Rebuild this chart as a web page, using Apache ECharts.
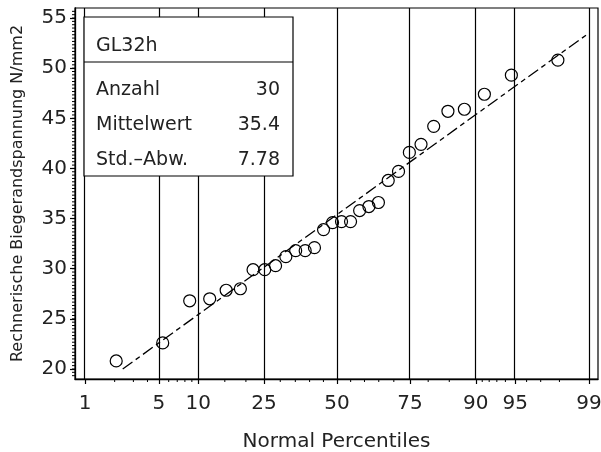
<!DOCTYPE html>
<html>
<head>
<meta charset="utf-8">
<script src="https://cdn.jsdelivr.net/npm/echarts@6/dist/echarts.min.js"></script>
<style>
  html, body { margin: 0; padding: 0; background: #fff; }
  #chart { width: 601px; height: 452px; }
</style>
</head>
<body>
<div id="chart"></div>
<script>
// Sample title and summary statistics
const sampleName = 'GL32h';
const statLabels = ['Anzahl', 'Mittelwert', 'Std.–Abw.'];
const sampleCount = 30;
const sampleMean = 35.4;
const sampleStd = 7.78;

// Plotting positions (percent) of the sorted sample
const percentiles = [
  2.07, 5.37, 8.68, 11.98, 15.29, 18.60, 21.90, 25.21, 28.51, 31.82,
  35.12, 38.43, 41.74, 45.04, 48.35, 51.65, 54.96, 58.26, 61.57, 64.88,
  68.18, 71.49, 74.79, 78.10, 81.40, 84.71, 88.02, 91.32, 94.63, 97.93
];
// Sorted bending strength values, N/mm2
const strengths = [
  20.8, 22.6, 26.8, 27.0, 27.85, 28.0, 29.9, 29.9, 30.3, 31.2,
  31.8, 31.8, 32.1, 33.9, 34.6, 34.7, 34.7, 35.8, 36.2, 36.6,
  38.8, 39.7, 41.6, 42.4, 44.2, 45.7, 45.9, 47.4, 49.3, 50.8
];

// Axis ticks
const xMajorPct = [1, 5, 10, 25, 50, 75, 90, 95, 99];
const xMinorPct = [2, 3, 4, 6, 7, 8, 9, 15, 20, 30, 35, 40, 45, 55, 60, 65, 70, 80, 85, 91, 92, 93, 94, 96, 97, 98];
const yMajor = [20, 25, 30, 35, 40, 45, 50, 55];

// Inverse standard normal CDF (Acklam) used as the probability-axis scale
function probit(p) {
  const a = [-3.969683028665376e+01, 2.209460984245205e+02, -2.759285104469687e+02, 1.383577518672690e+02, -3.066479806614716e+01, 2.506628277386251e+00];
  const b = [-5.447609879822406e+01, 1.615858368580409e+02, -1.556989798598866e+02, 6.680131188771972e+01, -1.328068155288572e+01];
  const c = [-7.784894002430293e-03, -3.223964580411365e-01, -2.400758277161838e+00, -2.549732539343734e+00, 4.374664141464968e+00, 2.938163982698783e+00];
  const d = [7.784695709041462e-03, 3.224671290700398e-01, 2.445134137142996e+00, 3.754408661907416e+00];
  const plow = 0.02425;
  let q, r;
  if (p < plow) {
    q = Math.sqrt(-2 * Math.log(p));
    return (((((c[0]*q+c[1])*q+c[2])*q+c[3])*q+c[4])*q+c[5]) / ((((d[0]*q+d[1])*q+d[2])*q+d[3])*q+1);
  }
  if (p <= 1 - plow) {
    q = p - 0.5; r = q * q;
    return (((((a[0]*r+a[1])*r+a[2])*r+a[3])*r+a[4])*r+a[5])*q / (((((b[0]*r+b[1])*r+b[2])*r+b[3])*r+b[4])*r+1);
  }
  q = Math.sqrt(-2 * Math.log(1 - p));
  return -(((((c[0]*q+c[1])*q+c[2])*q+c[3])*q+c[4])*q+c[5]) / ((((d[0]*q+d[1])*q+d[2])*q+d[3])*q+1);
}

const zOf = pct => probit(pct / 100);
const xMajorZ = xMajorPct.map(zOf);
const xMinorZ = xMinorPct.map(zOf);
const X_MIN = -2.42, X_MAX = 2.41;
const Y_MIN = 19, Y_MAX = 56;

// minor y ticks every 1/3 unit
const yMinor = [];
for (let k = Y_MIN * 3 + 1; k < Y_MAX * 3; k++) yMinor.push(k / 3);

const points = percentiles.map((p, i) => [zOf(p), strengths[i]]);

// Fitted normal line: from the bottom of the value range up to the 99 % line
const zStart = (20 - sampleMean) / sampleStd;
const zEnd = zOf(99);
const fitLine = [[zStart, sampleMean + sampleStd * zStart], [zEnd, sampleMean + sampleStd * zEnd]];

const FONT = 'DejaVu Sans';
const INK = '#222';

const chart = echarts.init(document.getElementById('chart'), null, { renderer: 'canvas' });

const boxX = 84, boxY = 17, boxW = 209, boxH = 159, boxDiv = 62;
const statValues = [String(sampleCount), sampleMean.toFixed(1), sampleStd.toFixed(2)];
const rowY = [90, 125, 160];

const graphics = [
  { type: 'rect', z: 100, shape: { x: boxX, y: boxY, width: boxW, height: boxH },
    style: { fill: '#fff', stroke: '#000', lineWidth: 1.2 } },
  { type: 'line', z: 101, shape: { x1: boxX, y1: boxDiv, x2: boxX + boxW, y2: boxDiv },
    style: { stroke: '#000', lineWidth: 1.2 } },
  { type: 'text', z: 101, x: 96, y: 46,
    style: { text: sampleName, font: '19px "' + FONT + '"', fill: INK, textVerticalAlign: 'middle', verticalAlign: 'middle' } }
];
statLabels.forEach((lab, i) => {
  graphics.push({ type: 'text', z: 101, x: 96, y: rowY[i],
    style: { text: lab, font: '19px "' + FONT + '"', fill: INK, verticalAlign: 'middle', textVerticalAlign: 'middle' } });
  graphics.push({ type: 'text', z: 101, x: 280, y: rowY[i],
    style: { text: statValues[i], font: '19px "' + FONT + '"', fill: INK, align: 'right', textAlign: 'right', verticalAlign: 'middle', textVerticalAlign: 'middle' } });
});

// Short tick strokes drawn through the axis scales
function minorTickX(params, api) {
  const p = api.coord([api.value(0), Y_MIN]);
  return { type: 'line', shape: { x1: p[0], y1: p[1], x2: p[0], y2: p[1] + 3 },
    style: { stroke: '#000', lineWidth: 1 } };
}
function minorTickY(params, api) {
  const p = api.coord([X_MIN, api.value(1)]);
  return { type: 'line', shape: { x1: p[0] - 3, y1: p[1], x2: p[0], y2: p[1] },
    style: { stroke: '#000', lineWidth: 1 } };
}

const option = {
  backgroundColor: '#fff',
  animation: false,
  textStyle: { fontFamily: FONT },
  grid: {
    left: 75, right: 3, top: 8, bottom: 73,
    show: true, borderColor: '#000', borderWidth: 1.2, backgroundColor: '#fff',
    containLabel: false, outerBoundsMode: 'none'
  },
  xAxis: {
    type: 'value', min: X_MIN, max: X_MAX, position: 'bottom',
    name: 'Normal Percentiles', nameLocation: 'middle', nameGap: 53,
    nameTextStyle: { fontSize: 20, color: INK, fontFamily: FONT },
    axisLine: { show: true, onZero: false, lineStyle: { color: '#000', width: 1.3 } },
    axisTick: { show: true, customValues: xMajorZ, length: 5, inside: false, lineStyle: { color: '#000', width: 1.2 } },
    axisLabel: {
      show: true, customValues: xMajorZ, margin: 15, fontSize: 20, color: INK, fontFamily: FONT,
      formatter: v => {
        let best = 0;
        xMajorZ.forEach((z, i) => { if (Math.abs(z - v) < Math.abs(xMajorZ[best] - v)) best = i; });
        return String(xMajorPct[best]);
      }
    },
    splitLine: { show: false }
  },
  yAxis: {
    type: 'value', min: Y_MIN, max: Y_MAX, position: 'left',
    name: 'Rechnerische Biegerandspannung N/mm2', nameLocation: 'middle', nameGap: 49,
    nameTextStyle: { fontSize: 16, color: INK, fontFamily: FONT },
    axisLine: { show: true, onZero: false, lineStyle: { color: '#000', width: 1.3 } },
    axisTick: { show: true, customValues: yMajor, length: 5, lineStyle: { color: '#000', width: 1.2 } },
    axisLabel: { show: true, customValues: yMajor, margin: 8, fontSize: 20, color: INK, fontFamily: FONT },
    splitLine: { show: false }
  },
  series: [
    {
      type: 'line', name: 'grid', data: [], silent: true,
      markLine: {
        silent: true, symbol: 'none', animation: false,
        label: { show: false },
        lineStyle: { color: '#000', width: 1.2, type: 'solid' },
        data: xMajorZ.map(z => ({ xAxis: z }))
      }
    },
    {
      type: 'custom', name: 'xMinorTicks', silent: true, clip: false,
      data: xMinorZ.map(z => [z, Y_MIN]), encode: { x: 0, y: 1 },
      renderItem: minorTickX
    },
    {
      type: 'custom', name: 'yMinorTicks', silent: true, clip: false,
      data: yMinor.map(v => [X_MIN, v]), encode: { x: 0, y: 1 },
      renderItem: minorTickY
    },
    {
      type: 'line', name: 'fit', data: fitLine,
      symbol: 'none', silent: true,
      lineStyle: { color: '#000', width: 1.3, type: [12, 4, 5, 4] }
    },
    {
      type: 'scatter', name: sampleName, data: points,
      symbol: 'circle', symbolSize: 12, silent: true,
      itemStyle: { color: 'rgba(0,0,0,0)', borderColor: '#000', borderWidth: 1.2, opacity: 1 }
    }
  ],
  graphic: graphics
};

chart.setOption(option);
</script>
</body>
</html>
